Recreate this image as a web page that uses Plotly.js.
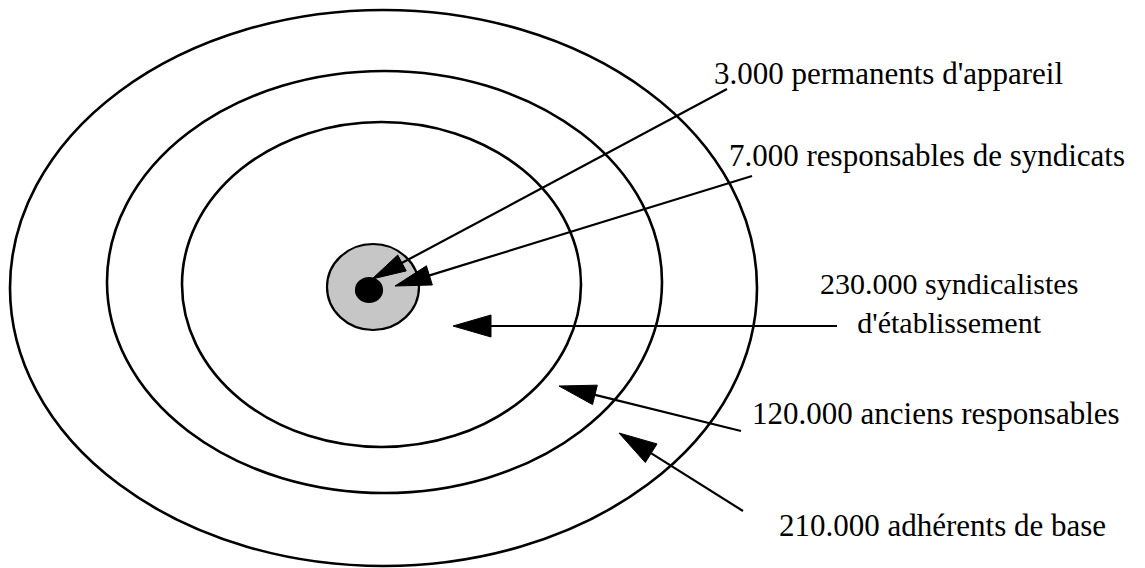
<!DOCTYPE html>
<html>
<head>
<meta charset="utf-8">
<script src="https://cdn.plot.ly/plotly-3.0.1.min.js"></script>
<style>html,body{margin:0;padding:0;background:#fff;}#chart{width:1145px;height:568px;}</style>
</head>
<body>
<div id="chart"></div>
<script>
// Concentric rings (outer to inner): bounding boxes in drawing units
const ringX0 = [10, 107, 182, 327, 356];
const ringX1 = [757, 662, 581, 419, 382];
const ringY0 = [10, 71, 122, 244, 278];
const ringY1 = [566, 493, 447, 330, 302];
const ringFill = ['rgba(0,0,0,0)', 'rgba(0,0,0,0)', 'rgba(0,0,0,0)', '#c6c6c6', '#000000'];

// Labels
const labelText = [
  "3.000 permanents d'appareil",
  "7.000 responsables de syndicats",
  "230.000 syndicalistes<br>d'établissement",
  "120.000 anciens responsables",
  "210.000 adhérents de base"
];
const labelX = [712, 727, 949, 750, 777];
const labelY = [73, 155, 303, 413, 525];
const labelAnchor = ['left', 'left', 'center', 'left', 'left'];
const labelSize = [31, 31, 30, 31, 31];

// Arrows: tail (near label) -> tip (inside ring)
const arrowTailX = [727, 752, 837, 741, 743];
const arrowTailY = [89, 176, 326, 431, 511];
const arrowTipX = [372, 395, 453, 559, 619];
const arrowTipY = [279, 286, 326, 386, 433];
const headLen = [34, 36, 38, 37, 38];
const headWid = [18, 20, 22, 20, 22];

const shapes = [];
for (let i = 0; i < ringX0.length; i++) {
  shapes.push({
    type: 'circle', xref: 'x', yref: 'y',
    x0: ringX0[i], x1: ringX1[i], y0: ringY0[i], y1: ringY1[i],
    line: {color: '#000', width: i < 3 ? 2.6 : 2.2},
    fillcolor: ringFill[i], layer: 'above'
  });
}
for (let i = 0; i < arrowTailX.length; i++) {
  const dx = arrowTipX[i] - arrowTailX[i], dy = arrowTipY[i] - arrowTailY[i];
  const L = Math.hypot(dx, dy), ux = dx / L, uy = dy / L;
  const bx = arrowTipX[i] - ux * headLen[i], by = arrowTipY[i] - uy * headLen[i];
  const px = -uy * headWid[i] / 2, py = ux * headWid[i] / 2;
  shapes.push({
    type: 'line', xref: 'x', yref: 'y',
    x0: arrowTailX[i], y0: arrowTailY[i], x1: bx + ux * 4, y1: by + uy * 4,
    line: {color: '#000', width: 2.2}, layer: 'above'
  });
  shapes.push({
    type: 'path', xref: 'x', yref: 'y',
    path: 'M' + arrowTipX[i] + ',' + arrowTipY[i] +
          ' L' + (bx + px) + ',' + (by + py) +
          ' L' + (bx - px) + ',' + (by - py) + ' Z',
    fillcolor: '#000', line: {color: '#000', width: 1}, layer: 'above'
  });
}

const annotations = labelText.map((t, i) => ({
  text: t, x: labelX[i], y: labelY[i], xref: 'x', yref: 'y',
  xanchor: labelAnchor[i], yanchor: 'middle', align: 'center', showarrow: false,
  font: {family: '"Liberation Serif", "Times New Roman", serif', size: labelSize[i], color: '#000'}
}));

const layout = {
  width: 1145, height: 568,
  margin: {l: 0, r: 0, t: 0, b: 0},
  paper_bgcolor: '#fff', plot_bgcolor: '#fff',
  showlegend: false,
  xaxis: {range: [0, 1145], visible: false, fixedrange: true},
  yaxis: {range: [568, 0], visible: false, fixedrange: true},
  shapes: shapes,
  annotations: annotations
};

Plotly.newPlot('chart', [{x: [], y: [], type: 'scatter', mode: 'markers', hoverinfo: 'skip'}], layout, {displayModeBar: false, staticPlot: true});
</script>
</body>
</html>
